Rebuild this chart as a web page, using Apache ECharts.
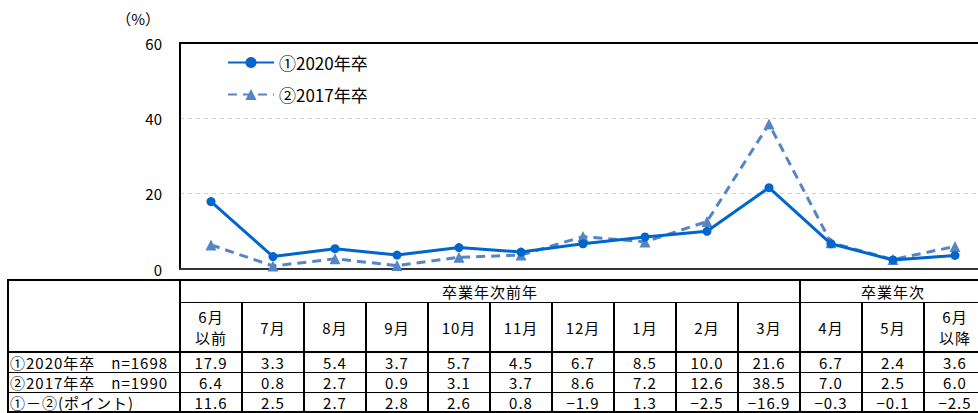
<!DOCTYPE html>
<html><head><meta charset="utf-8">
<script src="https://cdn.jsdelivr.net/npm/echarts@6/dist/echarts.min.js"></script>
<style>
html,body{margin:0;padding:0;background:#fff;overflow:hidden}
#wrap{position:relative;width:978px;height:413px;overflow:hidden}
#c{position:absolute;left:0;top:0;width:978px;height:413px}
#tbl{position:absolute;left:0;top:0;width:978px;height:413px;pointer-events:none}
.ln{position:absolute;background:#000}
.tx{position:absolute;font:15px "Noto Sans CJK JP",sans-serif;letter-spacing:1px;color:#000;line-height:21px;white-space:pre;text-align:center;display:flex;align-items:center;justify-content:center}
.tx.l{justify-content:flex-start}
</style>
</head><body><div id="wrap"><div id="c"></div><div id="tbl"></div></div>
<script>
var categories = ['6月以前','7月','8月','9月','10月','11月','12月','1月','2月','3月','4月','5月','6月以降'];
var headerLabels = ['6月\n以前','7月','8月','9月','10月','11月','12月','1月','2月','3月','4月','5月','6月\n以降'];
var s2020 = [17.9,3.3,5.4,3.7,5.7,4.5,6.7,8.5,10.0,21.6,6.7,2.4,3.6];
var s2017 = [6.4,0.8,2.7,0.9,3.1,3.7,8.6,7.2,12.6,38.5,7.0,2.5,6.0];
var diff = [11.6,2.5,2.7,2.8,2.6,0.8,-1.9,1.3,-2.5,-16.9,-0.3,-0.1,-2.5];
var yTicks = [0,20,40,60];
var name2020 = '①2020年卒';
var name2017 = '②2017年卒';
var rowLabels = ['①2020年卒　n=1698','②2017年卒　n=1990','①－②(ポイント)'];
var groupLabels = ['卒業年次前年','卒業年次'];
var groupSplit = 10;

var FONT = '"Noto Sans CJK JP", sans-serif';
var chart = echarts.init(document.getElementById('c'), null, {renderer:'svg'});
function fmt(v){ return (v<0 ? '−'+Math.abs(v).toFixed(1) : v.toFixed(1)); }

chart.setOption({
  animation:false,
  textStyle:{fontFamily:FONT},
  grid:{left:180, top:43, width:806, height:226, outerBoundsMode:'none', containLabel:false,
        show:true, borderColor:'#000', borderWidth:2},
  legend:{
    orient:'vertical', left:222, top:49, itemGap:15, itemWidth:46, itemHeight:14,
    textStyle:{fontSize:17, color:'#000', fontFamily:FONT},
    data:[name2020, name2017]
  },
  xAxis:{type:'category', data:categories, boundaryGap:true,
    axisLine:{lineStyle:{color:'#333', width:2}}, axisTick:{show:false}, axisLabel:{show:false}},
  yAxis:{type:'value', min:yTicks[0], max:yTicks[yTicks.length-1], interval:20,
    name:'（%）', nameLocation:'end', nameGap:17,
    nameTextStyle:{fontSize:15, color:'#000', align:'right', padding:[0,20,0,0]},
    axisLine:{show:true, lineStyle:{color:'#000', width:1.5}}, axisTick:{show:false},
    axisLabel:{fontSize:15, color:'#000', margin:18},
    splitLine:{showMinLine:false, showMaxLine:false, lineStyle:{type:[4,4], color:'#d0d0d0'}}},
  series:[
    {name:name2020, type:'line', data:s2020, symbol:'circle', symbolSize:9,
     lineStyle:{width:3, color:'#0066CC'}, itemStyle:{color:'#0066CC'}, z:3},
    {name:name2017, type:'line', data:s2017, symbol:'triangle', symbolSize:11,
     lineStyle:{width:3, color:'#5585C4', type:[9,6]}, itemStyle:{color:'#5585C4'}, z:2}
  ]
});

// data table below the plot, columns aligned to the x axis scale
var xs = categories.map(function(c,i){ return chart.convertToPixel({xAxisIndex:0}, i); });
var step = xs[1]-xs[0];
var edges = xs.map(function(x){ return x - step/2; });
edges.push(xs[xs.length-1] + step/2);
var L = 8, X0 = edges[0], R = edges[edges.length-1];
var rowY = [280, 302, 352, 372, 392, 412];
var tbl = document.getElementById('tbl');
function hl(x1,x2,y,w){ var d=document.createElement('div'); d.className='ln'; d.style.left=x1+'px'; d.style.top=(y-w/2)+'px'; d.style.width=(x2-x1)+'px'; d.style.height=w+'px'; tbl.appendChild(d); }
function vl(x,y1,y2,w){ var d=document.createElement('div'); d.className='ln'; d.style.left=(x-w/2)+'px'; d.style.top=y1+'px'; d.style.width=w+'px'; d.style.height=(y2-y1)+'px'; tbl.appendChild(d); }
function cell(x1,x2,y1,y2,t,left){ var d=document.createElement('div'); d.className='tx'+(left?' l':''); d.style.left=x1+'px'; d.style.top=y1+'px'; d.style.width=(x2-x1)+'px'; d.style.height=(y2-y1)+'px'; if(left) d.style.paddingLeft='2px'; d.textContent=t; tbl.appendChild(d); }

hl(L, R, rowY[0], 2);
hl(X0, R, rowY[1], 1);
hl(L, R, rowY[2], 1.5);
hl(L, R, rowY[3], 1);
hl(L, R, rowY[4], 1);
hl(L, R, rowY[5], 1.5);
vl(L, rowY[0]-1, rowY[5]+1, 2);
vl(X0, rowY[0]-1, rowY[5]+1, 2);
for (var k=1;k<edges.length;k++){
  var yStart = (k===groupSplit || k===edges.length-1) ? rowY[0] : rowY[1];
  vl(edges[k], yStart, rowY[5], 2);
}
cell(edges[0], edges[groupSplit], rowY[0], rowY[1], groupLabels[0]);
cell(edges[groupSplit], R, rowY[0], rowY[1], groupLabels[1]);
headerLabels.forEach(function(t,i){ cell(edges[i], edges[i+1], rowY[1], rowY[2], t); });
rowLabels.forEach(function(t,r){ cell(L, X0, rowY[2+r], rowY[3+r], t, true); });
[s2020, s2017, diff].forEach(function(arr,r){
  arr.forEach(function(v,i){ cell(edges[i], edges[i+1], rowY[2+r], rowY[3+r], fmt(v)); });
});
</script></body></html>
